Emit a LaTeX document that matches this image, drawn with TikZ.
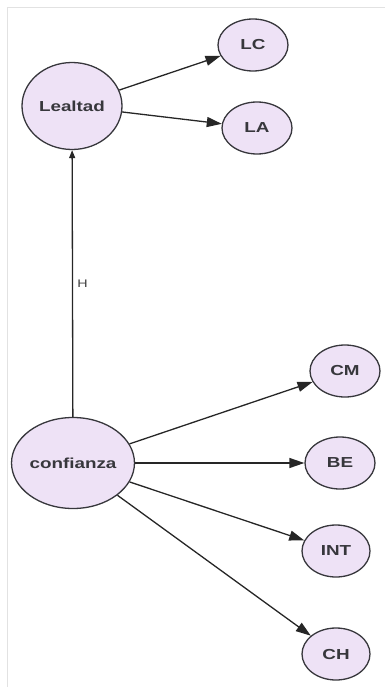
\documentclass[tikz,border=0pt]{standalone}
\usepackage{fontspec}
\setmainfont{Liberation Sans}
\newfontfamily\nodefont[FakeStretch=1.3]{Liberation Sans}
\usetikzlibrary{shapes.geometric,arrows.meta}
\definecolor{nodefill}{RGB}{238,226,246}
\definecolor{nodeline}{RGB}{55,55,60}
\definecolor{frameline}{RGB}{226,226,226}
\begin{document}
\begin{tikzpicture}[x=1pt, y=-1pt,%
% common options for the constructs:
latent/.style = {ellipse, draw=nodeline, line width=1.3pt, fill=nodefill,
            inner sep=0, font=\nodefont\bfseries\fontsize{14.5}{14.5}\selectfont,
            text=nodeline},
% common options for the indicators:
item/.style = {latent, minimum width=70pt, minimum height=52pt},
% common options for the arrows:
path/.style = {draw=black!85, line width=1.3pt, -{Triangle[length=15pt,width=10pt]}}]
\useasboundingbox (0,0) rectangle (385,687);
\draw[frameline, line width=1.5pt] (385,7.5) -- (7.5,7.5) -- (7.5,687);
\node[latent, minimum width=100pt, minimum height=87pt] (L0) at (72,106) {Lealtad};
\node[latent, minimum width=104pt, minimum height=91pt] (C0) at (73,463) {confianza};
\node[item] (L1) at (253,45) {LC};
\node[item] (L2) at (257,128) {LA};
\node[item] (C1) at (345,371) {CM};
\node[item] (C2) at (340,463) {BE};
\node[item, minimum width=68pt] (C3) at (336,551) {INT};
\node[item, minimum width=68pt] (C4) at (336,654) {CH};
\draw[path] (L0) to (L1);
\draw[path] (L0) to (L2);
\draw[path, -{Triangle[length=8pt,width=6pt]}] (C0) to
  node[right, font=\nodefont\fontsize{11}{11}\selectfont, text=black!75, xshift=1pt] (H) {H} (L0);
\draw[path] (C0) to (C1);
\draw[path] (C0) to (C2);
\draw[path] (C0) to (C3);
\draw[path] (C0) to (C4);
\end{tikzpicture}
\end{document}
